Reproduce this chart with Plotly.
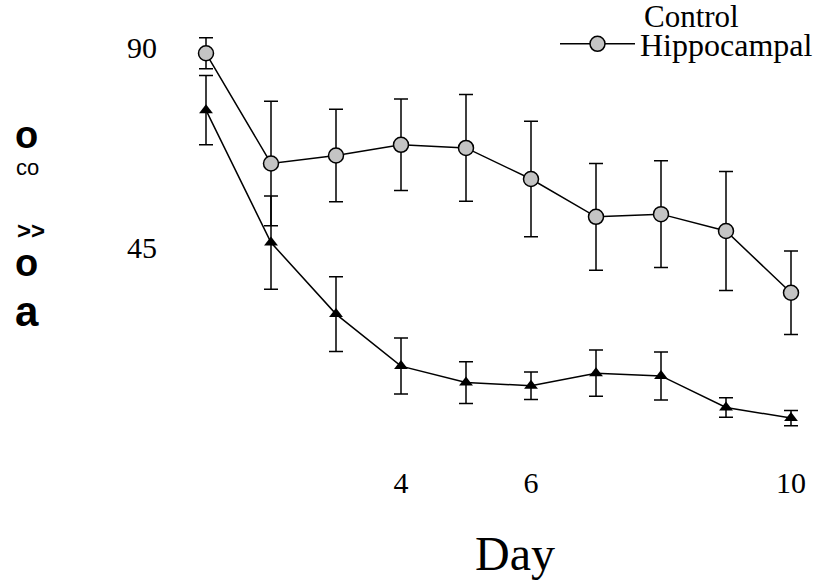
import plotly.graph_objects as go

days = [1, 2, 3, 4, 5, 6, 7, 8, 9, 10]
hippocampal = [88.6, 63.8, 65.6, 68.0, 67.3, 60.3, 51.8, 52.4, 48.6, 34.7]
hippocampal_err = [3.5, 14.0, 10.4, 10.3, 12.0, 13.0, 12.0, 12.0, 13.4, 9.4]
control = [75.8, 46.0, 29.9, 18.2, 14.5, 13.8, 16.6, 16.0, 8.9, 6.5]
control_err = [7.8, 10.5, 8.4, 6.3, 4.7, 3.1, 5.2, 5.4, 2.2, 1.7]
x_ticks = [4, 6, 10]
y_ticks = [45, 90]
ylabel_parts = ["o", "co", ">>", "o", "a"]

SERIF = "Liberation Serif"
SANS = "Liberation Sans"

L, R, T, B = 180, 810, 20, 458  # plot area in pixels
W, H = 824, 583


def px(x):
    return (x - L) / (R - L)


def py(y):
    return (B - y) / (B - T)


fig = go.Figure()
fig.add_trace(go.Scatter(
    x=days, y=control, name="Control", mode="lines+markers",
    line=dict(color="black", width=1.5),
    marker=dict(symbol="triangle-up", size=12, color="black"),
    error_y=dict(type="data", array=control_err, color="black", thickness=1.5, width=7),
    showlegend=False,
))
fig.add_trace(go.Scatter(
    x=days, y=hippocampal, name="Hippocampal", mode="lines+markers",
    line=dict(color="black", width=1.5),
    marker=dict(symbol="circle", size=15, color="#c4c4c4", line=dict(color="black", width=1.5)),
    error_y=dict(type="data", array=hippocampal_err, color="black", thickness=1.5, width=7),
))

# y-label fragments (as printed)
ylab_pos = [(26, 135, 38, True), (27, 167, 22, False), (31, 230, 24, True), (26, 263, 38, True), (27, 311, 42, True)]
for txt, (xx, yy, fs, bold) in zip(ylabel_parts, ylab_pos):
    fig.add_annotation(
        text=f"<b>{txt}</b>" if bold else txt,
        xref="paper", yref="paper", x=px(xx), y=py(yy),
        xanchor="center", yanchor="middle", showarrow=False,
        font=dict(family=SANS, size=fs, color="black"),
    )

fig.add_annotation(
    text="Control", xref="paper", yref="paper", x=px(691), y=py(17),
    xanchor="center", yanchor="middle", showarrow=False,
    font=dict(family=SERIF, size=31, color="black"),
)
fig.add_annotation(
    text="Day", xref="paper", yref="paper", x=px(515), y=py(553),
    xanchor="center", yanchor="middle", showarrow=False,
    font=dict(family=SERIF, size=48, color="black"),
)

fig.update_layout(
    width=W, height=H,
    margin=dict(l=L, r=W - R, t=T, b=H - B, autoexpand=False),
    plot_bgcolor="white", paper_bgcolor="white",
    font=dict(family=SERIF, color="black"),
    legend=dict(
        x=px(555), y=py(44), xanchor="left", yanchor="middle",
        font=dict(family=SERIF, size=32, color="black"),
        bgcolor="rgba(0,0,0,0)", itemwidth=75,
    ),
    xaxis=dict(
        range=[0.6, 10.2923], tickvals=x_ticks, ticktext=[str(t) for t in x_ticks],
        showgrid=False, zeroline=False, showline=False, ticks="",
        tickfont=dict(family=SERIF, size=30, color="black"), ticklabelstandoff=4,
    ),
    yaxis=dict(
        range=[(447 - B) / 4.444, (447 - T) / 4.444], tickvals=y_ticks, ticktext=[str(t) for t in y_ticks],
        showgrid=False, zeroline=False, showline=False, ticks="",
        tickfont=dict(family=SERIF, size=30, color="black"), ticklabelstandoff=22,
    ),
)

fig.write_html("out.html")
